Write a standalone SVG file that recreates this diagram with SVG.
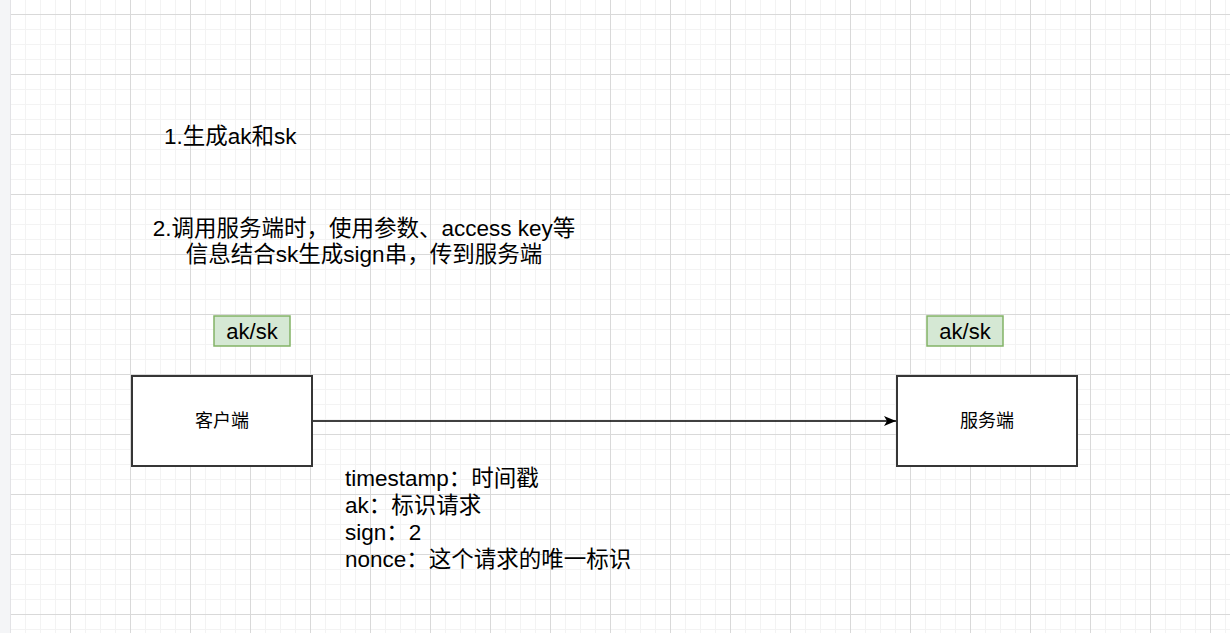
<svg xmlns="http://www.w3.org/2000/svg" width="1230" height="633" viewBox="0 0 1230 633">
<style>
.txt{font-family:"Liberation Sans","Noto Sans CJK SC",sans-serif;fill:#000}
.big{font-size:22.5px}
.tagt{font-size:22px}
.lbl{font-size:18px}
.box{fill:#fff;stroke:#363636;stroke-width:2}
.tag{fill:#d5e8d4;stroke:#82b366;stroke-width:1.5}
</style>
<defs>
<pattern id="grid" patternUnits="userSpaceOnUse" x="10" y="14" width="60" height="60">
<rect x="15" y="0" width="1" height="60" fill="#f3f3f3"/>
<rect x="30" y="0" width="1" height="60" fill="#f3f3f3"/>
<rect x="45" y="0" width="1" height="60" fill="#f3f3f3"/>
<rect x="0" y="15" width="60" height="1" fill="#f3f3f3"/>
<rect x="0" y="30" width="60" height="1" fill="#f3f3f3"/>
<rect x="0" y="45" width="60" height="1" fill="#f3f3f3"/>
<rect x="0" y="0" width="1" height="60" fill="#d9d9d9"/>
<rect x="0" y="0" width="60" height="1" fill="#d9d9d9"/>
</pattern>
<marker id="arr" viewBox="0 0 12 10" refX="12" refY="5" markerWidth="12" markerHeight="10" markerUnits="userSpaceOnUse" orient="auto">
<path d="M0,0 L12,5 L0,10 L3,5 Z" fill="#000"/>
</marker>
</defs>
<rect x="0" y="0" width="1230" height="633" fill="#fff"/>
<rect x="11" y="0" width="1219" height="633" fill="url(#grid)"/>
<rect x="0" y="0" width="11" height="633" fill="#f4f5f7"/>
<rect x="10" y="0" width="1" height="633" fill="#e3e3e6"/>

<g id="connectors">
<line x1="312" y1="421" x2="896" y2="421" stroke="#000" stroke-width="1.5" marker-end="url(#arr)"/>
</g>

<g id="step1"><text class="txt big" x="164" y="144">1.生成ak和sk</text></g>
<g id="step2">
<text class="txt big" x="364" y="236" text-anchor="middle">2.调用服务端时，使用参数、access key等</text>
<text class="txt big" x="364" y="262" text-anchor="middle">信息结合sk生成sign串，传到服务端</text>
</g>

<g id="aksk-client"><rect class="tag" x="214" y="316" width="76" height="30"/><text class="txt tagt" x="252" y="339" text-anchor="middle">ak/sk</text></g>
<g id="aksk-server"><rect class="tag" x="927" y="316" width="76" height="30"/><text class="txt tagt" x="965" y="339" text-anchor="middle">ak/sk</text></g>

<g id="client"><rect class="box" x="132" y="376" width="180" height="90"/><text class="txt lbl" x="222" y="427" text-anchor="middle">客户端</text></g>
<g id="server"><rect class="box" x="897" y="376" width="180" height="90"/><text class="txt lbl" x="987" y="427" text-anchor="middle">服务端</text></g>

<g id="params">
<text class="txt big" x="345" y="486">timestamp：时间戳</text>
<text class="txt big" x="345" y="513">ak：标识请求</text>
<text class="txt big" x="345" y="540">sign：2</text>
<text class="txt big" x="345" y="567">nonce：这个请求的唯一标识</text>
</g>
</svg>
